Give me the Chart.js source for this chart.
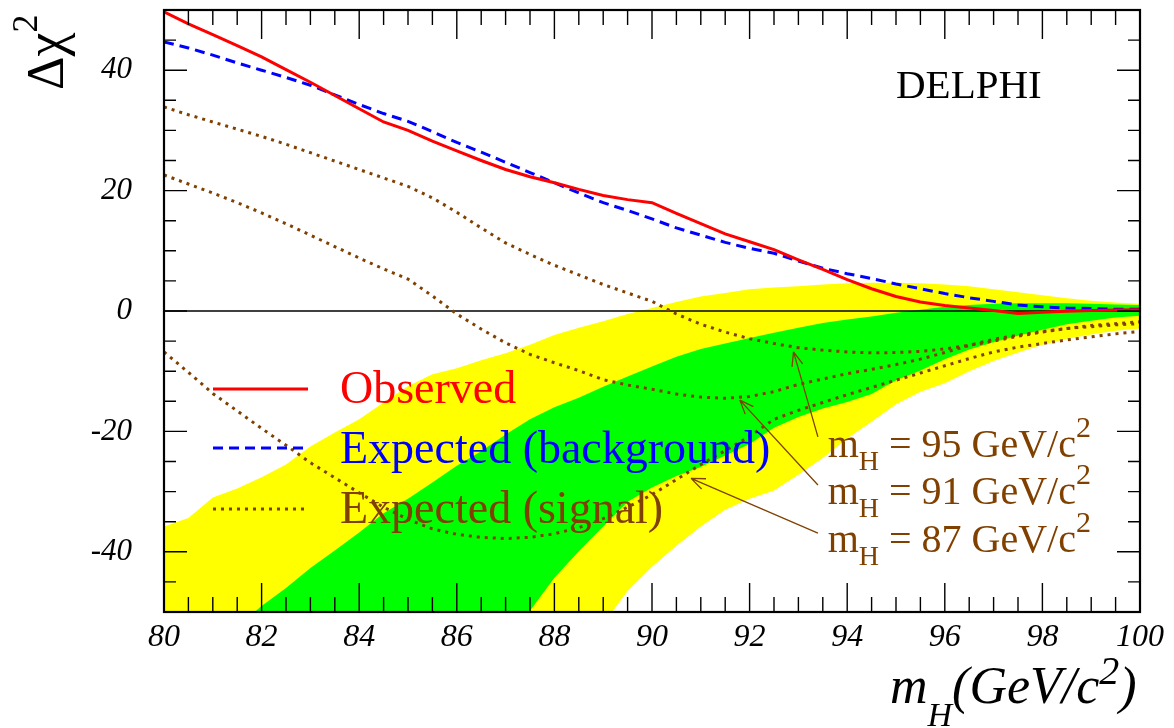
<!DOCTYPE html>
<html>
<head>
<meta charset="utf-8">
<title>DELPHI - Δχ² versus m_H</title>
<script src="https://cdn.jsdelivr.net/npm/chart.js@4/dist/chart.umd.min.js"></script>
<style>
  html, body { margin: 0; padding: 0; background: #fff; overflow: hidden; }
  #wrap { width: 1174px; height: 728px; }
</style>
</head>
<body>
<div id="wrap"><canvas id="myChart"></canvas></div>
<script>
// Higgs mass hypotheses (GeV/c^2)
const mass = [80, 80.5, 81, 81.5, 82, 82.5, 83, 83.5, 84, 84.5, 85, 85.5, 86, 86.5, 87, 87.5,
  88, 88.5, 89, 89.5, 90, 90.5, 91, 91.5, 92, 92.5, 93, 93.5, 94, 94.5, 95, 95.5,
  96, 96.5, 97, 97.5, 98, 98.5, 99, 99.5, 100]

// observed delta chi2
const observed = [49.7, 47.7, 45.9, 44.1, 42.2, 40.1, 38.0, 35.8, 33.6, 31.4, 30.0, 28.2, 26.6, 25.0, 23.5, 22.3,
  21.3, 20.2, 19.2, 18.5, 18.0, 16.2, 14.5, 12.8, 11.5, 10.2, 8.5, 6.9, 5.2, 3.7, 2.4, 1.5,
  0.9, 0.5, 0.1, -0.4, -0.2, -0.05, 0.1, 0.15, 0.2]

// expected, background only
const expBackground = [44.7, 43.7, 42.5, 41.2, 40.0, 38.8, 37.5, 35.9, 34.3, 32.8, 31.5, 29.8, 28.0, 26.4, 24.7, 23.0,
  21.3, 19.6, 18.0, 16.7, 15.3, 13.8, 12.6, 11.4, 10.4, 9.6, 8.3, 7.1, 6.2, 5.4, 4.5, 3.7,
  2.9, 2.2, 1.6, 1.0, 0.7, 0.5, 0.4, 0.3, 0.3]

// expected with a signal of mass 95 / 91 / 87
const expSignal95 = [33.9, 32.6, 31.4, 30.2, 29.0, 27.7, 26.3, 24.9, 23.5, 22.1, 20.7, 18.8, 16.4, 13.8, 11.3, 9.4,
  7.6, 6.0, 4.4, 3.0, 1.6, -0.5, -2.2, -3.5, -4.6, -5.4, -6.1, -6.5, -6.8, -6.95, -6.9, -6.7,
  -6.3, -5.7, -5.0, -4.2, -3.5, -2.9, -2.4, -2.1, -1.8]
const expSignal91 = [22.6, 21.1, 19.6, 18.0, 16.3, 14.5, 12.6, 10.7, 8.8, 7.0, 5.3, 2.5, -0.5, -3.0, -5.3, -7.2,
  -8.6, -9.9, -11.4, -12.3, -13.0, -13.8, -14.3, -14.5, -14.2, -13.4, -12.2, -11.3, -10.4, -9.7, -8.9, -8.0,
  -6.9, -5.7, -4.7, -4.0, -3.4, -2.9, -2.6, -2.3, -2.1]
const expSignal87 = [-6.8, -10.2, -13.7, -16.6, -19.5, -22.3, -25.2, -27.7, -30.2, -32.6, -34.6, -36.2, -37.1, -37.6, -37.8, -37.6,
  -37.0, -36.0, -34.5, -32.6, -30.5, -28.0, -25.5, -23.2, -20.8, -18.0, -16.5, -15.2, -13.9, -12.7, -11.5, -10.3,
  -9.1, -7.9, -6.8, -6.0, -5.4, -4.8, -4.3, -3.8, -3.4]

// 1 sigma (green) and 2 sigma (yellow) bands of the background expectation
const band1Upper = [-60, -60, -57, -52.5, -49, -46, -42.7, -39.8, -36.8, -33.6, -31.2, -28.5, -25.7, -23.3, -20.5, -18.0,
  -16.0, -14.4, -12.6, -10.9, -9.2, -7.6, -6.3, -5.4, -4.5, -3.6, -2.8, -2.0, -1.4, -0.9, -0.3, 0.2,
  0.7, 1.0, 1.2, 1.3, 1.3, 1.3, 1.2, 1.1, 1.0]
const band1Lower = [-60, -60, -60, -60, -60, -60, -60, -60, -60, -60, -60, -60, -60, -60, -56, -49.8,
  -44.3, -39.9, -35.8, -31.7, -29.3, -27.4, -25.9, -24.0, -22.1, -19.4, -17.6, -16.2, -15.1, -13.8, -11.5, -9.9,
  -8.0, -6.4, -5.2, -4.1, -3.1, -2.2, -1.6, -1.1, -0.8]
const band2Upper = [-35.8, -34.4, -31.0, -29.5, -27.6, -25.5, -22.5, -20.2, -18.0, -15.2, -12.5, -10.5, -9.5, -8.2, -7.0, -5.6,
  -4.0, -2.8, -1.7, -0.5, 0.5, 1.5, 2.4, 3.0, 3.6, 3.9, 4.1, 4.4, 4.6, 4.7, 4.7, 4.6,
  4.4, 4.1, 3.6, 3.1, 2.6, 2.1, 1.7, 1.4, 1.2]
const band2Lower = [-60, -60, -60, -60, -60, -60, -60, -60, -60, -60, -60, -60, -60, -60, -60, -60,
  -60, -60, -52, -46.5, -42.5, -39, -35.8, -33.0, -31.2, -29.8, -27.2, -24.4, -21.2, -18.4, -15.5, -13.4,
  -12.0, -10.0, -8.3, -6.9, -5.6, -4.6, -3.9, -3.3, -2.9]

// axis ticks
const xTickValues = [80, 82, 84, 86, 88, 90, 92, 94, 96, 98, 100]
const yTickValues = [-40, -20, 0, 20, 40]

// legend + labels
const legendLabels = ['Observed', 'Expected (background)', 'Expected (signal)']
const signalMasses = ['95', '91', '87']
const arrowTipX = [92.9, 91.8, 90.8]
const arrowTipY = [-6.8, -14.8, -27.8]
const arrowTailX = [93.4, 93.4, 93.4]
const arrowTailY = [-20.9, -28.9, -36.9]
const massLabelX = 93.6
const massLabelY = [-24.2, -32.1, -40.0]

const SERIF = '"Liberation Serif", "Times New Roman", serif'
const RED = '#ff0000', BLUE = '#0000ff', BROWN = '#804000'

function pts(vals) {
    return mass.map((m, i) => ({ x: m, y: vals[i] }))
}

// draw a run of text pieces (for sub/superscripts)
function drawRuns(ctx, x, y, runs) {
    ctx.textAlign = 'left'
    ctx.textBaseline = 'alphabetic'
    for (const r of runs) {
        ctx.font = (r.italic ? 'italic ' : '') + r.size + 'px ' + SERIF
        ctx.fillText(r.t, x, y + (r.dy || 0))
        x += ctx.measureText(r.t).width
    }
    return x
}

// frame and inward ticks, ROOT style
const frameTicks = {
    id: 'frameTicks',
    afterDatasetsDraw(chart) {
        const ctx = chart.ctx, a = chart.chartArea
        const xs = chart.scales.x, ys = chart.scales.y
        ctx.save()
        ctx.strokeStyle = '#000'
        ctx.lineWidth = 1.4
        ctx.beginPath()
        for (let k = 0; k <= 40; k++) {
            const v = 80 + k * 0.5
            const px = xs.getPixelForValue(v)
            const len = (k % 4 === 0) ? 29 : 15
            ctx.moveTo(px, a.bottom); ctx.lineTo(px, a.bottom - len)
            ctx.moveTo(px, a.top); ctx.lineTo(px, a.top + len)
        }
        for (let k = 0; k <= 20; k++) {
            const v = -50 + k * 5
            const py = ys.getPixelForValue(v)
            const len = (v % 20 === 0) ? 23 : 12
            ctx.moveTo(a.left, py); ctx.lineTo(a.left + len, py)
            ctx.moveTo(a.right, py); ctx.lineTo(a.right - len, py)
        }
        ctx.stroke()
        ctx.lineWidth = 2.2
        ctx.strokeRect(a.left, a.top, a.right - a.left, a.bottom - a.top)
        ctx.restore()
    }
}

// titles, legend, DELPHI tag and mass labels with arrows
const texts = {
    id: 'texts',
    afterDraw(chart) {
        const ctx = chart.ctx
        const xs = chart.scales.x, ys = chart.scales.y
        ctx.save()

        // x title
        ctx.fillStyle = '#000'
        drawRuns(ctx, 890, 703, [
            { t: 'm', size: 52, italic: true },
            { t: 'H', size: 34, italic: true, dy: 23 },
            { t: '(GeV/c', size: 52, italic: true },
            { t: '2', size: 40, italic: true, dy: -19 },
            { t: ')', size: 52, italic: true }
        ])

        // y title
        ctx.save()
        ctx.translate(63, 90)
        ctx.rotate(-Math.PI / 2)
        drawRuns(ctx, 0, 0, [
            { t: 'Δ', size: 52 },
            { t: 'χ', size: 54 },
            { t: '2', size: 36, dy: -26 }
        ])
        ctx.restore()

        // DELPHI
        ctx.font = '41px ' + SERIF
        ctx.textAlign = 'left'
        ctx.textBaseline = 'alphabetic'
        ctx.fillText('DELPHI', xs.getPixelForValue(95.0), ys.getPixelForValue(35.4))

        // legend
        const ds = chart.data.datasets
        const rows = [389, 448, 509]
        const textBase = [403, 463, 523]
        const colors = [RED, BLUE, BROWN]
        for (let i = 0; i < 3; i++) {
            const d = ds[i + (i === 2 ? 2 : 0)]
            ctx.save()
            ctx.strokeStyle = d.borderColor
            ctx.lineWidth = d.borderWidth
            ctx.setLineDash(d.borderDash || [])
            ctx.beginPath()
            ctx.moveTo(213, rows[i]); ctx.lineTo(308, rows[i])
            ctx.stroke()
            ctx.restore()
            ctx.fillStyle = colors[i]
            ctx.font = '46px ' + SERIF
            ctx.fillText(legendLabels[i], 340, textBase[i])
        }

        // mass labels with arrows
        ctx.strokeStyle = BROWN
        ctx.fillStyle = BROWN
        ctx.lineWidth = 1.3
        for (let i = 0; i < signalMasses.length; i++) {
            const tx = xs.getPixelForValue(arrowTipX[i]), ty = ys.getPixelForValue(arrowTipY[i])
            const sx = xs.getPixelForValue(arrowTailX[i]), sy = ys.getPixelForValue(arrowTailY[i])
            const ang = Math.atan2(ty - sy, tx - sx)
            ctx.beginPath()
            ctx.moveTo(sx, sy); ctx.lineTo(tx, ty)
            for (const s of [-1, 1]) {
                ctx.moveTo(tx, ty)
                ctx.lineTo(tx - 15 * Math.cos(ang + s * 0.38), ty - 15 * Math.sin(ang + s * 0.38))
            }
            ctx.stroke()

            drawRuns(ctx, xs.getPixelForValue(massLabelX), ys.getPixelForValue(massLabelY[i]), [
                { t: 'm', size: 40 },
                { t: 'H', size: 28, dy: 13 },
                { t: ' = ' + signalMasses[i] + ' GeV/c', size: 40 },
                { t: '2', size: 30, dy: -20 }
            ])
        }
        ctx.restore()
    }
}

const ctx = document.getElementById('myChart')
const dots = [3, 5]

new Chart(ctx, {
    type: 'line',
    data: {
        datasets: [
            { label: legendLabels[0], data: pts(observed), borderColor: RED, borderWidth: 3 },
            { label: legendLabels[1], data: pts(expBackground), borderColor: BLUE, borderWidth: 3, borderDash: [10, 6] },
            { label: 'mH = 95', data: pts(expSignal95), borderColor: BROWN, borderWidth: 3, borderDash: dots },
            { label: 'mH = 91', data: pts(expSignal91), borderColor: BROWN, borderWidth: 3, borderDash: dots },
            { label: 'mH = 87', data: pts(expSignal87), borderColor: BROWN, borderWidth: 3, borderDash: dots },
            { label: 'zero', data: [{ x: mass[0], y: 0 }, { x: mass[mass.length - 1], y: 0 }], borderColor: '#000', borderWidth: 1.6 },
            { label: '1 sigma', data: pts(band1Upper), borderColor: 'rgba(0,0,0,0)', borderWidth: 0, backgroundColor: '#00ff00', fill: '+1' },
            { label: '1 sigma low', data: pts(band1Lower), borderColor: 'rgba(0,0,0,0)', borderWidth: 0, fill: false },
            { label: '2 sigma', data: pts(band2Upper), borderColor: 'rgba(0,0,0,0)', borderWidth: 0, backgroundColor: '#ffff00', fill: '+1' },
            { label: '2 sigma low', data: pts(band2Lower), borderColor: 'rgba(0,0,0,0)', borderWidth: 0, fill: false }
        ]
    },
    options: {
        responsive: true,
        maintainAspectRatio: false,
        animation: false,
        devicePixelRatio: 1,
        layout: { padding: { top: 10, right: 34, left: 0, bottom: 0 } },
        elements: { point: { radius: 0 }, line: { tension: 0 } },
        plugins: { legend: { display: false }, tooltip: { enabled: false } },
        scales: {
            x: {
                type: 'linear',
                min: 80,
                max: 100,
                grid: { display: false, drawTicks: false },
                border: { display: false },
                afterBuildTicks: s => { s.ticks = xTickValues.map(v => ({ value: v })) },
                afterFit: s => { s.height = 116; s.paddingLeft = 0; s.paddingRight = 0 },
                ticks: {
                    font: { family: SERIF, size: 32, style: 'italic' },
                    color: '#000',
                    padding: 6,
                    maxRotation: 0,
                    autoSkip: false
                }
            },
            y: {
                min: -50,
                max: 50,
                grid: { display: false, drawTicks: false },
                border: { display: false },
                afterBuildTicks: s => { s.ticks = yTickValues.map(v => ({ value: v })) },
                afterFit: s => { s.width = 164; s.paddingTop = 0; s.paddingBottom = 0 },
                ticks: {
                    font: { family: SERIF, size: 31, style: 'italic' },
                    color: '#000',
                    padding: 32,
                    callback: v => String(v)
                }
            }
        }
    },
    plugins: [frameTicks, texts]
})
</script>
</body>
</html>
